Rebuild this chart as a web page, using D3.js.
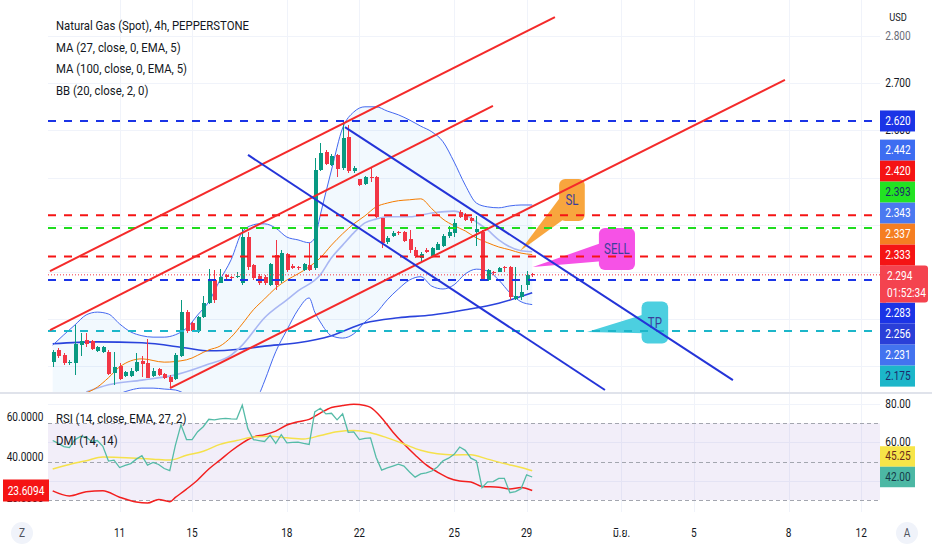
<!DOCTYPE html>
<html>
<head>
<meta charset="utf-8">
<script src="https://cdn.jsdelivr.net/npm/d3@7"></script>
<style>
  body { margin: 0; background: #fff; }
  svg { display: block; font-family: Roboto, "Noto Sans", "DejaVu Sans", sans-serif; }
</style>
</head>
<body>
<svg id="chart"></svg>
<script>
// ---- candles (4h bars, index 0 = first visible bar) ----
const opens = [2.110,2.135,2.124,2.109,2.107,2.145,2.156,2.154,2.133,2.131,
  2.131,2.085,2.101,2.080,2.080,2.091,2.111,2.107,2.080,2.095,
  2.084,2.078,2.073,2.121,2.216,2.191,2.174,2.205,2.234,2.283,
  2.277,2.293,2.289,2.290,2.276,2.375,2.315,2.292,2.290,2.273,
  2.336,2.280,2.338,2.312,2.311,2.304,2.315,2.308,2.516,2.555,
  2.527,2.548,2.520,2.585,2.513,2.496,2.486,2.501,2.501,2.414,
  2.363,2.376,2.384,2.385,2.370,2.347,2.330,2.346,2.334,2.347,
  2.355,2.376,2.382,2.428,2.421,2.414,2.385,2.385,2.283,2.301,
  2.301,2.311,2.311,2.243,2.248,2.273,2.296];
const highs = [2.135,2.138,2.128,2.114,2.188,2.171,2.170,2.156,2.143,2.144,
  2.135,2.131,2.107,2.090,2.096,2.128,2.121,2.158,2.096,2.097,
  2.086,2.082,2.128,2.241,2.220,2.195,2.207,2.249,2.306,2.304,
  2.306,2.296,2.291,2.300,2.396,2.385,2.318,2.295,2.293,2.320,
  2.368,2.347,2.340,2.316,2.313,2.320,2.361,2.541,2.573,2.559,
  2.550,2.551,2.622,2.612,2.524,2.498,2.503,2.523,2.503,2.414,
  2.377,2.386,2.387,2.387,2.388,2.352,2.342,2.350,2.354,2.364,
  2.380,2.398,2.413,2.432,2.425,2.417,2.418,2.389,2.306,2.303,
  2.310,2.313,2.313,2.311,2.272,2.302,2.298];
const lows = [2.099,2.117,2.103,2.103,2.082,2.121,2.142,2.134,2.131,2.128,
  2.082,2.061,2.071,2.077,2.078,2.089,2.078,2.075,2.078,2.080,
  2.073,2.057,2.071,2.119,2.171,2.172,2.171,2.202,2.232,2.234,
  2.276,2.285,2.284,2.288,2.272,2.304,2.284,2.273,2.272,2.270,
  2.262,2.276,2.301,2.306,2.305,2.302,2.302,2.304,2.513,2.527,
  2.524,2.502,2.516,2.509,2.510,2.482,2.484,2.491,2.414,2.350,
  2.360,2.374,2.378,2.364,2.340,2.330,2.322,2.340,2.331,2.346,
  2.353,2.373,2.375,2.415,2.407,2.404,2.355,2.280,2.281,2.294,
  2.299,2.301,2.240,2.241,2.240,2.262,2.290];
const closes = [2.131,2.121,2.107,2.110,2.147,2.154,2.147,2.136,2.141,2.142,
  2.084,2.099,2.073,2.088,2.091,2.110,2.105,2.076,2.091,2.082,
  2.075,2.068,2.124,2.216,2.174,2.174,2.205,2.234,2.280,2.241,
  2.290,2.289,2.287,2.291,2.375,2.311,2.287,2.276,2.276,2.318,
  2.273,2.340,2.304,2.309,2.308,2.317,2.304,2.516,2.552,2.529,
  2.546,2.518,2.583,2.513,2.520,2.484,2.501,2.499,2.417,2.361,
  2.373,2.383,2.382,2.366,2.347,2.334,2.339,2.343,2.350,2.359,
  2.376,2.385,2.403,2.417,2.410,2.407,2.392,2.283,2.304,2.298,
  2.308,2.308,2.248,2.250,2.258,2.294,2.294];

// ---- overlays: [bar, price] ----
const bbIdx   = [0,2,4,6,8,10,12,14,16,18,20,22,24,26,28,30,32,34,36,37,38,40,42,44,46,47,48,50,52,54,56,58,60,62,64,66,68,70,72,74,76,78,80,82,84,86];
const bbUpper = [2.145,2.167,2.188,2.209,2.215,2.211,2.190,2.173,2.165,2.162,2.162,2.167,2.181,2.209,2.237,2.283,2.326,2.385,2.400,2.402,2.402,2.393,2.374,2.368,2.362,2.372,2.421,2.516,2.605,2.639,2.650,2.650,2.641,2.633,2.622,2.609,2.597,2.576,2.533,2.484,2.446,2.438,2.436,2.440,2.442,2.442];
const bbLower = [2.008,2.012,2.014,2.016,2.018,2.029,2.042,2.050,2.054,2.054,2.052,2.050,2.040,2.025,2.008,1.987,1.987,1.997,2.018,2.040,2.069,2.131,2.177,2.220,2.245,2.215,2.194,2.165,2.160,2.169,2.194,2.213,2.241,2.264,2.283,2.290,2.270,2.264,2.273,2.296,2.306,2.302,2.283,2.256,2.237,2.231];
const bbBasis = [[5,2.040],[8,2.056],[10,2.076],[12,2.099],[16,2.116],[20,2.109],[24,2.114],[28,2.135],[30,2.143],[32,2.162],[34,2.190],[36,2.220],[38,2.243],[40,2.266],[42,2.283],[44,2.296],[46,2.311],[48,2.330],[50,2.357],[52,2.381],[54,2.402],[56,2.419],[58,2.438],[60,2.446],[62,2.451],[64,2.453],[66,2.455],[68,2.434],[70,2.412],[72,2.398],[74,2.387],[76,2.372],[78,2.362],[80,2.353],[82,2.347],[84,2.340],[86,2.337]];
const ema27 = [[6,2.046],[10,2.061],[16,2.071],[22,2.082],[28,2.105],[32,2.124],[34,2.145],[38,2.203],[42,2.241],[44,2.260],[48,2.294],[50,2.330],[52,2.357],[54,2.383],[56,2.404],[58,2.412],[60,2.417],[64,2.417],[68,2.425],[72,2.429],[74,2.421],[76,2.406],[78,2.389],[80,2.368],[84,2.345],[86,2.343]];
const ema100 = [[0,2.148],[8,2.152],[16,2.150],[24,2.139],[28,2.133],[34,2.137],[38,2.143],[44,2.150],[50,2.165],[56,2.192],[62,2.203],[68,2.209],[74,2.220],[80,2.234],[86,2.256]];

// ---- lower pane ----
const rsi = [61.0,59.5,57.8,57.3,61.5,63.1,62.8,60.5,61.0,58.0,
  50.3,50.8,46.9,48.0,49.0,51.3,53.1,48.2,49.6,48.5,
  46.4,45.3,58.5,69.2,61.5,61.5,65.6,68.2,72.1,71.8,
  72.3,72.6,72.3,72.2,79.5,67.2,61.5,61.0,60.5,63.7,
  59.5,64.1,59.8,60.0,60.2,59.5,59.0,75.9,77.8,74.9,
  75.2,71.8,74.9,65.3,65.5,61.5,62.1,62.4,52.3,45.6,
  46.7,47.7,48.7,47.7,44.6,41.9,43.6,44.1,45.1,47.2,
  50.4,51.8,53.8,57.6,55.9,51.8,50.4,36.4,39.5,39.6,
  41.3,41.3,33.8,34.4,35.9,43.1,42.0];
const rsiMa = [[0,46.2],[3,48.5],[6,50.5],[9,52.4],[12,52.2],[15,51.8],[18,51.3],[21,50.8],[24,53.3],[27,55.4],[30,59.0],[33,61.0],[36,62.8],[39,63.2],[42,62.4],[45,61.8],[48,63.6],[51,65.6],[54,66.3],[57,65.1],[60,62.4],[63,59.2],[66,55.9],[69,54.1],[72,53.5],[75,53.6],[78,51.3],[81,49.0],[84,46.9],[86,45.25]];
const adx = [[0,23.4],[3,20.9],[6,23.0],[9,23.5],[12,20.3],[15,17.9],[17,17.4],[19,19.2],[21,18.1],[22,20.2],[24,24.3],[26,28.8],[28,34.2],[30,38.6],[32,43.1],[34,47.0],[36,50.0],[38,51.1],[40,52.9],[42,55.9],[44,57.5],[46,58.7],[48,61.8],[50,64.5],[52,65.5],[54,66.1],[56,65.5],[57,64.6],[59,59.4],[61,52.5],[63,46.5],[65,41.1],[67,36.2],[69,32.7],[71,29.8],[73,28.3],[75,27.8],[77,25.6],[80,25.2],[82,24.4],[84,25.1],[86,23.6094]];
const rsiBands = [70, 50, 30];

// ---- axes ----
const timeTickBars = [12, 25, 42, 55, 72, 85, 102, 115, 132, 145];
const timeTickLabels = ["11", "15", "18", "22", "25", "29", "มิ.ย.", "5", "8", "12"];
const priceTicks = [2.1, 2.2, 2.3, 2.4, 2.5, 2.6, 2.7, 2.8];
const rsiTicks = [40, 60, 80];
const dmiTicks = [20, 40, 60];

// ---- drawings ----
const levelPrices = [2.620, 2.420, 2.393, 2.333, 2.283, 2.175];
const levelColors = ["#1b34e6", "#f51414", "#1fdc1f", "#f51414", "#1b34e6", "#1cb6c9"];
const trendFrom = [[-0.48, 2.302], [-0.48, 2.177], [21.04, 2.054], [35.03, 2.548], [52.42, 2.607]];
const trendTo   = [[90.08, 2.840], [78.96, 2.652], [131.33, 2.707], [99.05, 2.050], [122.0, 2.071]];
const trendColors = ["#f42a2a", "#f42a2a", "#f42a2a", "#2434d8", "#2434d8"];
const calloutText = ["SL", "SELL", "TP"];
const calloutTip = [[83.81, 2.3445], [86.13, 2.3106], [95.83, 2.1729]];
const calloutBox = [[93.13, 2.4526], [101.2, 2.3488], [108.0, 2.1930]];
const calloutFill = ["#f8a63e", "#f652e6", "#4ccfe0"];

// ---- last-value markers on the scales ----
const lastPrice = 2.294, countdown = "01:52:34";
const markerPrices = [2.620, 2.442, 2.420, 2.393, 2.343, 2.337, 2.333, 2.283, 2.256, 2.231, 2.175];
const markerFills = ["#1b34e6", "#3d6df1", "#f51414", "#22e322", "#4b79f0", "#f57e22", "#f51414", "#1b34e6", "#2a3fd8", "#4373ef", "#1cb6c9"];
const markerInk = ["#fff", "#fff", "#fff", "#1d2a6b", "#fff", "#fff", "#fff", "#fff", "#fff", "#fff", "#1d2a6b"];
const rsiMarkers = [45.25, 42.00];

const legendMain = ["Natural Gas (Spot), 4h, PEPPERSTONE", "MA (27, close, 0, EMA, 5)", "MA (100, close, 0, EMA, 5)", "BB (20, close, 2, 0)"];
const legendLower = ["RSI (14, close, EMA, 27, 2)", "DMI (14, 14)"];

// ================= drawing =================
const W = 932, H = 550;
const L = 48, R = 880, MAIN_B = 392, LOW_T = 394, LOW_B = 512;
const UP = "#089981", DOWN = "#f23645", INK = "#131722", GRID = "#f0f3fa";

const svg = d3.select("#chart").attr("width", W).attr("height", H);
svg.append("rect").attr("width", W).attr("height", H).attr("fill", "#fff");

const x = d3.scaleLinear().domain([0, 86]).range([52.7, 532.2]);
const y = d3.scaleLinear().domain([2.1, 2.8]).range([366.4, 36]);
const yR = d3.scaleLinear().domain([30, 80]).range([500, 404.1]);
const yL = d3.scaleLinear().domain([23.6094, 60]).range([490.5, 416.7]);

const defs = svg.append("defs");
defs.append("clipPath").attr("id", "clipMain").append("rect")
  .attr("x", L).attr("y", 0).attr("width", R - L).attr("height", MAIN_B);
defs.append("clipPath").attr("id", "clipLow").append("rect")
  .attr("x", L).attr("y", LOW_T).attr("width", R - L).attr("height", LOW_B - LOW_T);

function squeeze(sel, k = 0.84) {
  sel.each(function() {
    const w = this.getComputedTextLength();
    if (w > 0) d3.select(this).attr("textLength", w * k).attr("lengthAdjust", "spacingAndGlyphs");
  });
  return sel;
}

// grid
const grid = svg.append("g").attr("stroke", GRID).attr("stroke-width", 1);
timeTickBars.forEach(b => {
  const gx = Math.round(x(b)) + 0.5;
  grid.append("line").attr("x1", gx).attr("x2", gx).attr("y1", 0).attr("y2", MAIN_B);
  grid.append("line").attr("x1", gx).attr("x2", gx).attr("y1", LOW_T).attr("y2", LOW_B);
});
priceTicks.forEach(p => {
  const gy = Math.round(y(p)) + 0.5;
  grid.append("line").attr("x1", L).attr("x2", R).attr("y1", gy).attr("y2", gy);
});
rsiTicks.forEach(v => {
  const gy = Math.round(yR(v)) + 0.5;
  grid.append("line").attr("x1", L).attr("x2", R).attr("y1", gy).attr("y2", gy);
});

// ---- main pane ----
const main = svg.append("g").attr("clip-path", "url(#clipMain)");

const bb = bbIdx.map((b, i) => ({b, u: bbUpper[i], l: bbLower[i]}));
main.append("path").datum(bb)
  .attr("d", d3.area().x(d => x(d.b)).y0(d => y(d.l)).y1(d => y(d.u)).curve(d3.curveMonotoneX))
  .attr("fill", "rgba(33,150,243,0.06)");

const lineXY = d3.line().x(d => x(d[0])).y(d => y(d[1])).curve(d3.curveMonotoneX);
main.append("path").datum(ema100).attr("d", lineXY).attr("fill", "none").attr("stroke", "#2a43dc").attr("stroke-width", 1.6);
main.append("path").datum(ema27).attr("d", lineXY).attr("fill", "none").attr("stroke", "#a9b7f3").attr("stroke-width", 1.6);
main.append("path").datum(bbBasis).attr("d", lineXY).attr("fill", "none").attr("stroke", "#f57c00").attr("stroke-width", 1);
main.append("path").datum(bb.map(d => [d.b, d.u])).attr("d", lineXY).attr("fill", "none").attr("stroke", "#4468f0").attr("stroke-width", 1);
main.append("path").datum(bb.map(d => [d.b, d.l])).attr("d", lineXY).attr("fill", "none").attr("stroke", "#4468f0").attr("stroke-width", 1);

// candles
const bars = opens.map((o, i) => ({i, o, h: highs[i], l: lows[i], c: closes[i]}));
const cg = main.append("g").attr("shape-rendering", "crispEdges");
cg.selectAll("line").data(bars).join("line")
  .attr("x1", d => Math.round(x(d.i)) + 0.5).attr("x2", d => Math.round(x(d.i)) + 0.5)
  .attr("y1", d => y(d.h)).attr("y2", d => y(d.l))
  .attr("stroke", d => d.c >= d.o ? UP : DOWN);
cg.selectAll("rect").data(bars).join("rect")
  .attr("x", d => Math.round(x(d.i)) - 1.5).attr("width", 4)
  .attr("y", d => y(Math.max(d.o, d.c)))
  .attr("height", d => Math.max(1, Math.abs(y(d.o) - y(d.c))))
  .attr("fill", d => d.c >= d.o ? UP : DOWN);

// last price dotted line
main.append("line").attr("x1", L).attr("x2", R)
  .attr("y1", y(lastPrice)).attr("y2", y(lastPrice))
  .attr("stroke", DOWN).attr("stroke-width", 1).attr("stroke-dasharray", "1,2");

// callouts
calloutText.forEach((t, i) => {
  const tx = x(calloutTip[i][0]), ty = y(calloutTip[i][1]);
  const bx = x(calloutBox[i][0]), by = y(calloutBox[i][1]);
  const g = main.append("g");
  const label = g.append("text").attr("x", bx).attr("y", by)
    .attr("text-anchor", "middle").attr("dominant-baseline", "central")
    .attr("font-size", 14).attr("fill", "#3b3f9a").text(t);
  squeeze(label, 0.82);
  const tw = label.node().getComputedTextLength() * 0.82;
  const w = tw + 15, h = 42;
  const dx = tx - bx, dy = ty - by, len = Math.hypot(dx, dy);
  const px = -dy / len * 11, py = dx / len * 11;
  g.insert("path", "text")
    .attr("d", `M${bx + px},${by + py}L${tx},${ty}L${bx - px},${by - py}Z`)
    .attr("fill", calloutFill[i]);
  g.insert("rect", "text").attr("x", bx - w / 2).attr("y", by - h / 2)
    .attr("width", w).attr("height", h).attr("rx", 6).attr("fill", calloutFill[i]);
});

// horizontal levels
levelPrices.forEach((p, i) => {
  main.append("line").attr("x1", L).attr("x2", R)
    .attr("y1", y(p)).attr("y2", y(p))
    .attr("stroke", levelColors[i]).attr("stroke-width", 2).attr("stroke-dasharray", "8,8");
});

// trend lines
trendFrom.forEach((f, i) => {
  main.append("line")
    .attr("x1", x(f[0])).attr("y1", y(f[1]))
    .attr("x2", x(trendTo[i][0])).attr("y2", y(trendTo[i][1]))
    .attr("stroke", trendColors[i]).attr("stroke-width", 2);
});

// ---- lower pane ----
const low = svg.append("g").attr("clip-path", "url(#clipLow)");
low.append("rect").attr("x", L).attr("width", R - L)
  .attr("y", yR(70)).attr("height", yR(30) - yR(70))
  .attr("fill", "rgba(126,87,194,0.1)");
rsiBands.forEach(v => {
  low.append("line").attr("x1", L).attr("x2", R)
    .attr("y1", Math.round(yR(v)) + 0.5).attr("y2", Math.round(yR(v)) + 0.5)
    .attr("stroke", "#a3a6af").attr("stroke-dasharray", "4,3");
});
low.append("path").datum(adx)
  .attr("d", d3.line().x(d => x(d[0])).y(d => yL(d[1])).curve(d3.curveMonotoneX))
  .attr("fill", "none").attr("stroke", "#f21f1f").attr("stroke-width", 1.5);
low.append("path").datum(rsiMa)
  .attr("d", d3.line().x(d => x(d[0])).y(d => yR(d[1])).curve(d3.curveMonotoneX))
  .attr("fill", "none").attr("stroke", "#f5e14b").attr("stroke-width", 1.5);
low.append("path").datum(rsi)
  .attr("d", d3.line().x((d, i) => x(i)).y(d => yR(d)))
  .attr("fill", "none").attr("stroke", "#55bba7").attr("stroke-width", 1.3);

// pane separator
svg.append("rect").attr("x", 0).attr("y", MAIN_B).attr("width", W).attr("height", 2).attr("fill", "#e0e3eb");

// ---- legends ----
legendMain.forEach((t, i) => {
  squeeze(svg.append("text").attr("x", 56).attr("y", 25 + i * 21.5)
    .attr("dominant-baseline", "central").attr("font-size", 13.5).attr("fill", INK).text(t));
});
legendLower.forEach((t, i) => {
  squeeze(svg.append("text").attr("x", 56).attr("y", 418 + i * 21.5)
    .attr("dominant-baseline", "central").attr("font-size", 13.5).attr("fill", INK).text(t));
});

// ---- scale markers: stack overlapping boxes ----
// merge colliding groups; a group is centred on its mean, or held by its anchored item
function stack(items) {
  let groups = items.slice().sort((a, b) => a.want - b.want)
    .map(d => ({items: [d], c: d.want, h: d.h}));
  const place = its => {
    const h = d3.sum(its, d => d.h);
    const a = its.findIndex(d => d.anchor);
    if (a < 0) return d3.mean(its, d => d.want);
    const before = d3.sum(its.slice(0, a), d => d.h);
    return its[a].want - its[a].h / 2 - before + h / 2;
  };
  let merged = true;
  while (merged) {
    merged = false;
    for (let i = 0; i < groups.length - 1; i++) {
      const a = groups[i], b = groups[i + 1];
      if (a.c + a.h / 2 > b.c - b.h / 2) {
        const its = a.items.concat(b.items);
        groups.splice(i, 2, {items: its, c: place(its), h: a.h + b.h});
        merged = true;
        break;
      }
    }
  }
  groups.forEach(g => {
    let top = g.c - g.h / 2;
    g.items.forEach(d => { d.top = top; top += d.h; });
  });
  return items;
}

const priceItems = markerPrices.map((p, i) => ({want: y(p), h: 21, text: d3.format(".3f")(p), fill: markerFills[i], ink: markerInk[i]}));
priceItems.push({want: y(lastPrice), h: 37, text: d3.format(".3f")(lastPrice), sub: countdown, fill: "#f4434f", ink: "#fff"});
stack(priceItems);

const rsiItems = [
  {want: yR(rsiMarkers[0]), h: 20.5, text: d3.format(".2f")(rsiMarkers[0]), fill: "#f7e548", ink: "#6a2a1a"},
  {want: yR(rsiMarkers[1]), h: 20.5, text: d3.format(".2f")(rsiMarkers[1]), fill: "#4cb8a4", ink: "#163a48", anchor: true}
];
stack(rsiItems);

const adxLast = adx[adx.length - 1][1];
const leftBox = {top: yL(adxLast) - 11, h: 22};

// a tick label is dropped only when marker boxes hide it completely (top and bottom both covered)
const covered = (v, boxes) => boxes.some(b => v >= b.top - 0.5 && v <= b.top + b.h + 0.5);
const hidden = (ty, boxes) => covered(ty - 5, boxes) && covered(ty + 5, boxes);

// ---- right price scale ----
const axisR = svg.append("g").attr("font-size", 12).attr("text-anchor", "middle");
squeeze(axisR.append("text").attr("x", 898).attr("y", 17).attr("dominant-baseline", "central")
  .attr("font-size", 11).attr("fill", INK).text("USD"));
priceTicks.filter(p => !hidden(y(p), priceItems)).forEach(p => {
  squeeze(axisR.append("text").attr("x", 898).attr("y", y(p)).attr("dominant-baseline", "central")
    .attr("fill", p === 2.8 ? "#6a6d78" : INK).text(d3.format(".3f")(p)));
});
rsiTicks.filter(v => !hidden(yR(v), rsiItems)).forEach(v => {
  squeeze(axisR.append("text").attr("x", 898).attr("y", yR(v)).attr("dominant-baseline", "central")
    .attr("fill", INK).text(d3.format(".2f")(v)));
});
const axisLft = svg.append("g").attr("font-size", 12).attr("text-anchor", "middle");
dmiTicks.filter(v => !hidden(yL(v), [leftBox])).forEach(v => {
  squeeze(axisLft.append("text").attr("x", 25).attr("y", yL(v)).attr("dominant-baseline", "central")
    .attr("fill", INK).text(d3.format(".4f")(v)));
});

// marker boxes
priceItems.forEach(d => {
  const g = svg.append("g");
  if (d.sub) {
    g.append("rect").attr("x", 880).attr("y", d.top).attr("width", 48).attr("height", d.h).attr("rx", 3).attr("fill", d.fill);
    g.append("rect").attr("x", 880).attr("y", d.top).attr("width", 6).attr("height", d.h).attr("fill", d.fill);
    squeeze(g.append("text").attr("x", 887).attr("y", d.top + 10.5).attr("dominant-baseline", "central")
      .attr("font-size", 12).attr("fill", d.ink).text(d.text));
    squeeze(g.append("text").attr("x", 887).attr("y", d.top + 27).attr("dominant-baseline", "central")
      .attr("font-size", 12).attr("fill", d.ink).text(d.sub));
  } else {
    g.append("rect").attr("x", 880).attr("y", d.top).attr("width", 35).attr("height", d.h).attr("fill", d.fill);
    squeeze(g.append("text").attr("x", 898).attr("y", d.top + d.h / 2).attr("text-anchor", "middle")
      .attr("dominant-baseline", "central").attr("font-size", 12).attr("fill", d.ink).text(d.text));
  }
});
rsiItems.forEach(d => {
  svg.append("rect").attr("x", 880).attr("y", d.top).attr("width", 35).attr("height", d.h).attr("fill", d.fill);
  squeeze(svg.append("text").attr("x", 898).attr("y", d.top + d.h / 2).attr("text-anchor", "middle")
    .attr("dominant-baseline", "central").attr("font-size", 12).attr("fill", d.ink).text(d.text));
});

// left DMI marker
svg.append("rect").attr("x", 3).attr("y", leftBox.top).attr("width", 46).attr("height", leftBox.h).attr("fill", "#f51414");
squeeze(svg.append("text").attr("x", 26).attr("y", yL(adxLast)).attr("text-anchor", "middle")
  .attr("dominant-baseline", "central").attr("font-size", 12).attr("fill", "#fff").text(d3.format(".4f")(adxLast)));

// ---- time axis ----
timeTickBars.forEach((b, i) => {
  squeeze(svg.append("text").attr("x", x(b)).attr("y", 533).attr("text-anchor", "middle")
    .attr("dominant-baseline", "central").attr("font-size", 12).attr("fill", INK)
    .style("font-family", "Roboto, 'Noto Sans', 'Noto Sans Thai', 'DejaVu Sans', sans-serif")
    .text(timeTickLabels[i]));
});
[[22, "Z"], [907, "A"]].forEach(([cx, t]) => {
  svg.append("circle").attr("cx", cx).attr("cy", 533).attr("r", 11).attr("fill", "#f0f3fa");
  squeeze(svg.append("text").attr("x", cx).attr("y", 533).attr("text-anchor", "middle")
    .attr("dominant-baseline", "central").attr("font-size", 12).attr("fill", "#50535e").text(t));
});
</script>
</body>
</html>
